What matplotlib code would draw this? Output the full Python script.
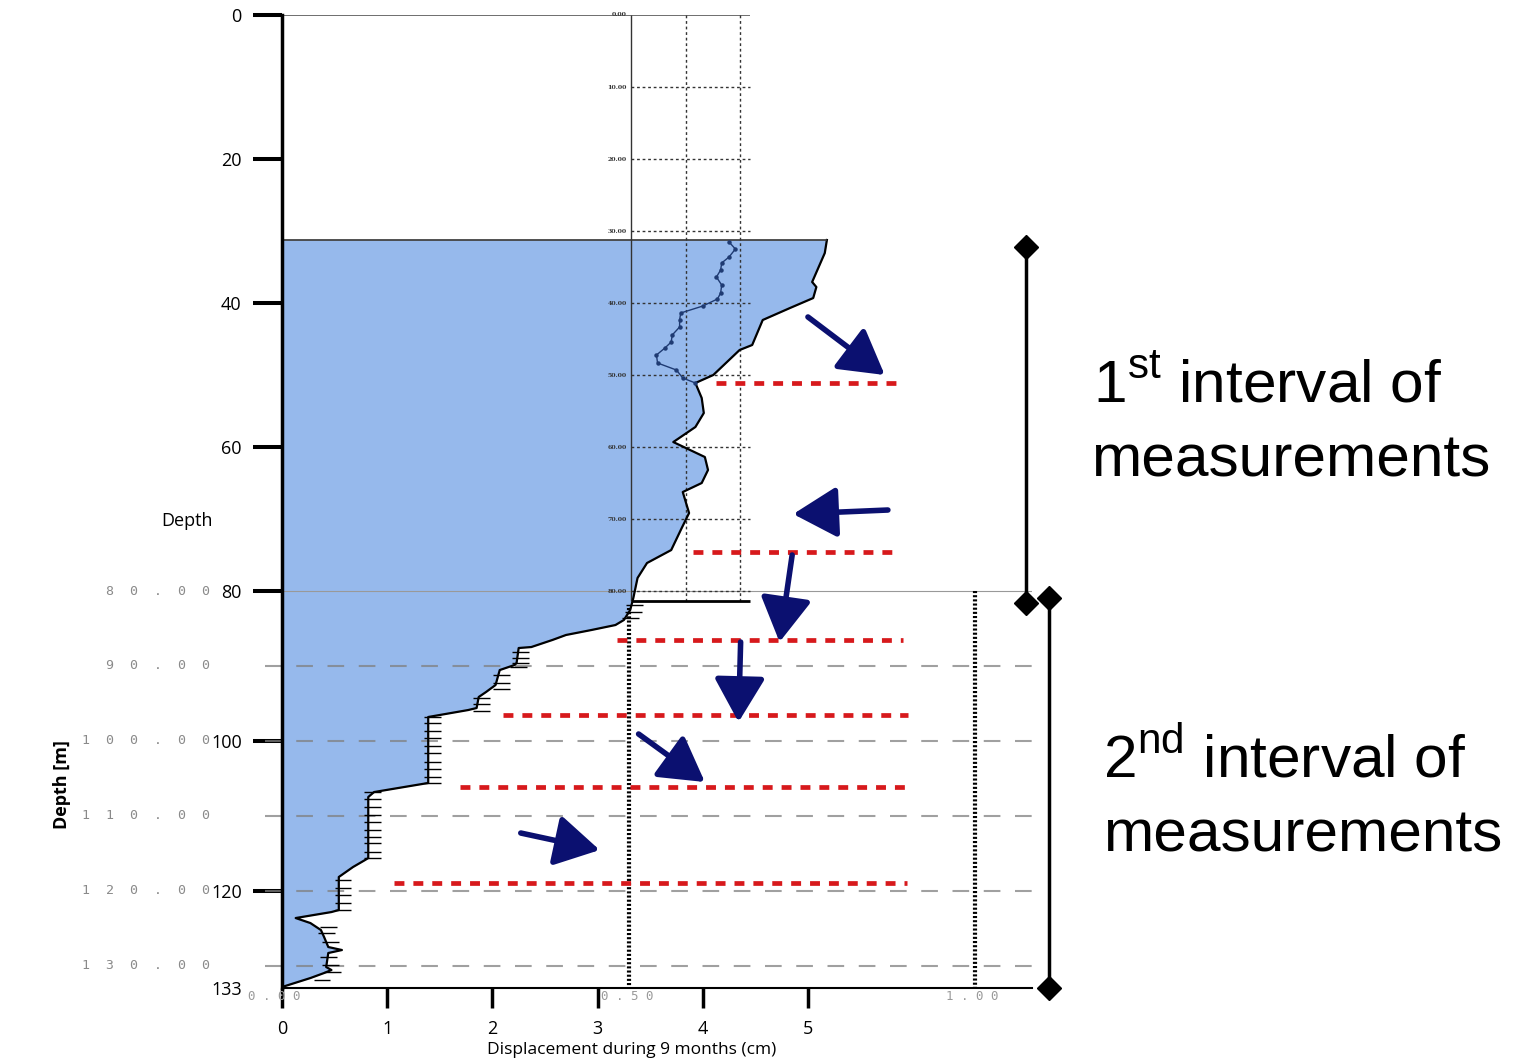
import numpy as np
import matplotlib.pyplot as plt

plt.rcParams['font.family'] = ['Open Sans', 'DejaVu Sans']
plt.rcParams['mathtext.fontset'] = 'custom'
plt.rcParams['mathtext.rm'] = 'Liberation Sans'

# outer displacement profile (cm) vs depth (m)
profile_depth = [31.25, 33.06, 37.08, 37.78, 39.31, 40.69, 42.36, 45.83, 46.53, 50.0,
                 51.11, 53.19, 55.28, 57.22, 59.31, 61.39, 63.19, 65.0, 66.25, 69.17,
                 71.25, 74.31, 76.11, 78.19, 80.93,
                 81.47, 82.54, 83.87, 84.54, 85.21, 85.87, 86.54, 87.48, 87.61, 89.61,
                 89.88, 90.55, 92.55, 93.48, 94.15, 95.62, 95.89, 96.82, 105.63, 106.84,
                 107.50, 115.65, 115.91, 116.85, 118.18, 122.59, 122.86, 123.66, 124.33,
                 125.26, 126.19, 127.53, 127.93, 128.33, 130.20, 130.60, 131.00, 131.67,
                 132.87]
profile_disp = [5.18, 5.16, 5.04, 5.08, 5.05, 4.83, 4.57, 4.47, 4.35, 4.10,
                3.93, 3.99, 4.01, 3.93, 3.72, 4.02, 4.05, 3.99, 3.81, 3.87,
                3.80, 3.70, 3.47, 3.38, 3.34,
                3.33, 3.31, 3.25, 3.17, 2.94, 2.70, 2.57, 2.37, 2.25, 2.23,
                2.21, 2.07, 2.03, 1.94, 1.87, 1.85, 1.77, 1.39, 1.39, 0.875,
                0.82, 0.82, 0.79, 0.675, 0.54, 0.54, 0.47, 0.13, 0.27,
                0.37, 0.40, 0.44, 0.57, 0.44, 0.42, 0.47, 0.40, 0.27,
                0.0]

# earlier reading in the upper section
inner_depth = [31.53, 32.5, 33.61, 34.44, 35.42, 36.39, 37.5, 38.61, 39.44, 40.42, 41.39,
               42.36, 43.33, 44.44, 45.42, 46.25, 47.22, 48.33, 49.31, 50.42, 51.11]
inner_disp = [4.25, 4.31, 4.25, 4.18, 4.17, 4.13, 4.18, 4.17, 4.14, 4.00, 3.79,
              3.78, 3.78, 3.71, 3.70, 3.64, 3.56, 3.57, 3.75, 3.81, 3.93]

# measurement ticks along the lower profile
tick_depth = [81.87, 82.80, 83.60, 88.14, 88.95, 89.61, 90.15, 91.21, 92.28, 93.08,
              94.29, 95.09, 96.02, 96.82, 97.62, 98.69, 99.63, 100.69, 101.63, 102.83,
              103.77, 104.83, 105.63, 106.84, 107.77, 108.84, 109.91, 110.84, 111.91,
              112.84, 113.65, 114.85, 115.65, 118.58, 119.65, 120.59, 121.66, 122.59,
              124.86, 125.66, 126.86, 128.87, 129.93, 130.87, 131.94]
tick_disp = [3.31, 3.30, 3.27, 2.23, 2.23, 2.23, 2.21, 2.05, 2.05, 2.05,
             1.86, 1.86, 1.86, 1.39, 1.39, 1.39, 1.39, 1.39, 1.39, 1.39,
             1.39, 1.39, 1.39, 0.82, 0.82, 0.82, 0.82, 0.82, 0.82,
             0.82, 0.82, 0.82, 0.82, 0.54, 0.54, 0.54, 0.54, 0.54,
             0.40, 0.38, 0.42, 0.40, 0.42, 0.44, 0.34]

# red dashed sliding levels
red_depth = [51.11, 74.58, 86.54, 96.56, 106.17, 118.98]
red_start = [4.13, 3.91, 3.18, 2.10, 1.69, 1.06]
red_end = [5.85, 5.87, 5.90, 5.95, 6.00, 5.94]

# arrows (tail -> tip), (cm, m)
arrow_tail = [(5.00, 41.94), (5.76, 68.75), (4.85, 75.0), (4.36, 86.81), (3.39, 99.09), (2.27, 112.31)]
arrow_tip = [(5.73, 50.0), (4.86, 69.31), (4.73, 86.81), (4.34, 97.49), (4.02, 105.5), (3.02, 114.58)]

depth_ticks = [0, 20, 40, 60, 80, 100, 120]
disp_ticks = [0, 1, 2, 3, 4, 5]
inset_levels = [0, 10, 20, 30, 40, 50, 60, 70, 80]
lower_levels = [80, 90, 100, 110, 120, 130]
lower_x_labels = ['0.00', '0.50', '1.00']
lower_x_pos = [-0.07, 3.28, 6.56]

BLUE = '#96B9EC'
NAVY = '#0B1070'
RED = '#D7191C'

# the figure stitches two plots; the lower one is a bit taller per metre
LOWER_STRETCH = 7.49 / 7.2


def depth_fwd(d):
    d = np.asarray(d, dtype=float)
    return np.where(d <= 80, d, 80 + (d - 80) * LOWER_STRETCH)


def depth_inv(t):
    t = np.asarray(t, dtype=float)
    return np.where(t <= 80, t, 80 + (t - 80) / LOWER_STRETCH)


fig = plt.figure(figsize=(15.14, 10.63), dpi=100)
ax = fig.add_axes([282 / 1514, 75 / 1063, 750 / 1514, 973 / 1063])
ax.set_yscale('function', functions=(depth_fwd, depth_inv))
ax.set_xlim(0, 7.13)
ax.set_ylim(133, 0)

# blue displacement area
ax.fill_betweenx(profile_depth, 0, profile_disp, color=BLUE, lw=0, zorder=1)
ax.plot(profile_disp, profile_depth, color='black', lw=1.6, zorder=4)
ax.hlines(profile_depth[0], 0, profile_disp[0], color='#333333', lw=1.2, zorder=4)
ax.plot(inner_disp, inner_depth, color='#1f3b73', lw=1, marker='o', ms=2.2, zorder=4)
ax.hlines(tick_depth, np.array(tick_disp) - 0.04, np.array(tick_disp) + 0.12,
          color='black', lw=1, zorder=4)

# upper inset frame and grid
ax.hlines(0, 0, 4.45, color='#555555', lw=1.2, zorder=3)
ax.vlines(3.32, 0, 81.34, color='#333333', lw=1, zorder=3)
ax.vlines([3.84, 4.35], 0, 81.34, color='#333333', lw=1, linestyles=(0, (2, 2)), zorder=3)
ax.hlines(inset_levels[1:], 3.32, 4.45, color='#333333', lw=1, linestyles=(0, (2, 2)), zorder=3)
ax.hlines(81.34, 3.33, 4.45, color='black', lw=2, zorder=4)
for lev in inset_levels:
    ax.text(3.28, lev, f'{lev}.00', fontsize=4.5, ha='right', va='center',
            family='DejaVu Serif', color='#333333', weight='bold')

# lower plot grid
ax.hlines(80, 0, 7.13, color='#999999', lw=0.8, zorder=2)
ax.hlines(lower_levels[1:], -0.16, 7.13, color='#808080', alpha=0.75, lw=1.5,
          linestyles=(0, (8, 7)), zorder=2, clip_on=False)
ax.vlines(3.30, 82.3, 133, color='black', lw=3, linestyles=(0, (0.5, 0.5)), zorder=3)
ax.vlines(6.59, 80, 133, color='black', lw=3, linestyles=(0, (0.5, 0.5)), zorder=3)
for lev in lower_levels:
    ax.text(-0.68, lev, '  '.join(f'{lev}.00'), fontsize=9.5, ha='right', va='center',
            family='DejaVu Sans Mono', color='#8a8a8a', clip_on=False)
for xp, lab in zip(lower_x_pos, lower_x_labels):
    ax.text(xp, 134.2, ' '.join(lab), fontsize=9, ha='center', va='center',
            family='DejaVu Sans Mono', color='#9a9a9a', clip_on=False)

# red dashed levels
ax.hlines(red_depth, red_start, red_end, colors=RED, lw=3.4,
          linestyles=(0, (2.1, 1.9)), zorder=5)

# arrows
for tail, tip in zip(arrow_tail, arrow_tip):
    ax.annotate('', xy=tip, xytext=tail, annotation_clip=False,
                arrowprops=dict(arrowstyle='-|>,head_length=0.52,head_width=0.3',
                                mutation_scale=52, lw=4, color=NAVY,
                                shrinkA=0, shrinkB=0), zorder=6)

# interval brackets
ax.plot([7.07, 7.07], [32.22, 81.6], color='black', lw=2.5, marker='D', ms=12,
        clip_on=False, zorder=6)
ax.plot([7.29, 7.29], [80.93, 133], color='black', lw=2.5, marker='D', ms=12,
        clip_on=False, zorder=6)

# axes styling
for side in ['top', 'right']:
    ax.spines[side].set_visible(False)
ax.spines['left'].set_linewidth(2.5)
ax.spines['bottom'].set_linewidth(1.5)
ax.spines['left'].set_zorder(7)

ax.set_yticks(depth_ticks, labels=[str(v) for v in depth_ticks])
ax.set_yticks([133], labels=['133'], minor=True)
ax.tick_params(axis='y', which='major', length=21, width=2.9, pad=8, labelsize=13)
ax.tick_params(axis='y', which='minor', length=0, pad=29, labelsize=13)
ax.set_xticks(disp_ticks, labels=[str(v) for v in disp_ticks])
ax.tick_params(axis='x', which='major', length=14.4, width=2.5, pad=9, labelsize=13)
ax.tick_params(axis='x', which='minor', length=0)

ax.set_xlabel('Displacement during 9 months (cm)', fontsize=12.5)
ax.xaxis.set_label_coords((632 - 282) / 750, -0.055)

ax.text(-0.90, 70.3, 'Depth', fontsize=13, ha='center', va='center')
ax.text(-2.09, 105.9, 'Depth [m]', fontsize=13, ha='center', va='center', rotation=90,
        weight='bold', clip_on=False)

# interval captions
cap = dict(fontsize=43.5, family='Liberation Sans', va='baseline', color='black')
fig.text(1093 / 1514, 1 - 402 / 1063, '1$^{\\mathrm{st}}$ interval of', **cap)
fig.text(1091 / 1514, 1 - 477 / 1063, 'measurements', **cap)
fig.text(1103 / 1514, 1 - 777 / 1063, '2$^{\\mathrm{nd}}$ interval of', **cap)
fig.text(1103 / 1514, 1 - 852 / 1063, 'measurements', **cap)

fig.savefig('out.png', dpi=100)
